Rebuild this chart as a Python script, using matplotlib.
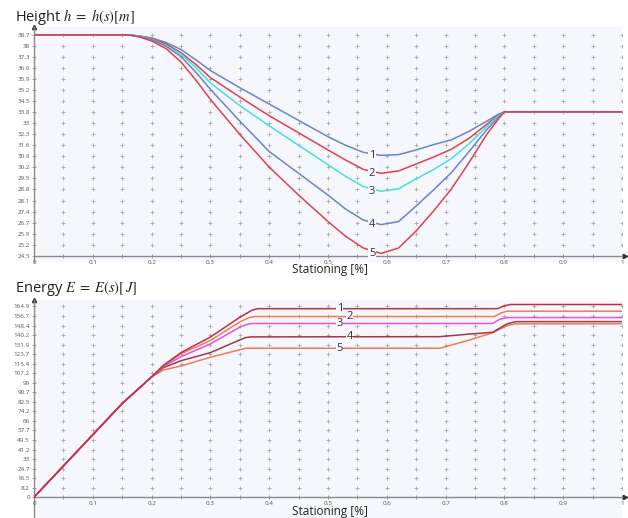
import matplotlib.pyplot as plt
import numpy as np

plt.rcParams['font.family'] = ['Open Sans', 'DejaVu Sans']
plt.rcParams['mathtext.fontset'] = 'stix'

# height profiles h(s)
h_x = [0.0, 0.15, 0.165, 0.18, 0.2, 0.225, 0.25, 0.275, 0.3, 0.35, 0.4, 0.45, 0.5, 0.53, 0.56,
       0.59, 0.62, 0.65, 0.68, 0.71, 0.74, 0.77, 0.79, 0.8, 1.0]
h1 = [38.7, 38.7, 38.68, 38.62, 38.5, 38.2, 37.75, 37.1, 36.4, 35.3, 34.25, 33.2, 32.15, 31.6, 31.15,
      30.95, 31.0, 31.3, 31.65, 31.95, 32.5, 33.15, 33.6, 33.75, 33.75]
h2 = [38.7, 38.7, 38.68, 38.6, 38.45, 38.1, 37.55, 36.8, 35.95, 34.7, 33.5, 32.4, 31.3, 30.65, 30.05,
      29.8, 29.95, 30.4, 30.85, 31.35, 32.05, 32.95, 33.55, 33.75, 33.75]
h3 = [38.7, 38.7, 38.68, 38.6, 38.42, 38.0, 37.45, 36.6, 35.6, 34.15, 32.85, 31.6, 30.35, 29.6, 28.95,
      28.65, 28.8, 29.45, 30.05, 30.75, 31.7, 32.8, 33.5, 33.75, 33.75]
h4 = [38.7, 38.7, 38.67, 38.58, 38.4, 37.95, 37.3, 36.3, 35.2, 33.15, 31.2, 29.8, 28.4, 27.5, 26.8,
      26.5, 26.7, 27.7, 28.75, 29.85, 31.2, 32.6, 33.4, 33.75, 33.75]
h5 = [38.7, 38.7, 38.66, 38.55, 38.3, 37.8, 36.95, 35.8, 34.55, 32.3, 30.2, 28.4, 26.7, 25.75, 25.0,
      24.65, 25.0, 26.1, 27.4, 28.8, 30.5, 32.3, 33.3, 33.75, 33.75]

# energy profiles E(s)
e1_x = [0.0, 0.1, 0.15, 0.2, 0.22, 0.25, 0.3, 0.35, 0.37, 0.38, 0.788, 0.8, 0.81, 1.0]
e1 = [0.0, 54.0, 81.0, 104.0, 114.0, 125.0, 138.5, 155.5, 161.5, 163.0, 163.0, 165.5, 166.6, 166.6]
e2_x = [0.0, 0.1, 0.15, 0.2, 0.22, 0.25, 0.3, 0.35, 0.365, 0.375, 0.783, 0.795, 0.805, 1.0]
e2 = [0.0, 54.0, 81.0, 104.0, 113.5, 124.0, 135.5, 151.5, 155.2, 156.2, 156.2, 159.5, 160.8, 160.8]
e3_x = [0.0, 0.1, 0.15, 0.2, 0.22, 0.25, 0.3, 0.35, 0.362, 0.372, 0.78, 0.792, 0.805, 1.0]
e3 = [0.0, 54.0, 81.0, 104.0, 113.0, 121.5, 132.5, 147.0, 149.4, 150.2, 150.2, 153.8, 155.3, 155.3]
e4_x = [0.0, 0.1, 0.15, 0.2, 0.22, 0.25, 0.3, 0.35, 0.36, 0.37, 0.69, 0.74, 0.78, 0.805, 0.82, 1.0]
e4 = [0.0, 54.0, 81.0, 104.0, 112.0, 118.0, 125.0, 136.0, 138.0, 138.6, 138.8, 141.0, 142.6, 150.0, 151.8, 151.8]
e5_x = [0.0, 0.1, 0.15, 0.2, 0.22, 0.25, 0.3, 0.35, 0.36, 0.69, 0.74, 0.78, 0.805, 0.82, 1.0]
e5 = [0.0, 54.0, 81.0, 104.0, 110.0, 113.5, 121.0, 127.5, 128.8, 128.8, 135.8, 142.2, 148.5, 149.9, 149.9]

h_ticks = ['24.5', '25.2', '25.9', '26.7', '27.4', '28.1', '28.8', '29.5', '30.2', '30.9', '31.6',
           '32.3', '33', '33.8', '34.5', '35.2', '35.9', '36.6', '37.3', '38', '38.7']
e_ticks = ['0', '8.2', '16.5', '24.7', '33', '41.2', '49.5', '57.7', '66', '74.2', '82.5', '90.7',
           '99', '107.2', '115.4', '123.7', '131.9', '140.2', '148.4', '156.7', '164.9']
x_ticks = ['0', '0.1', '0.2', '0.3', '0.4', '0.5', '0.6', '0.7', '0.8', '0.9', '1']

# where the curve numbers sit
h_lab_x = 0.575
e_lab_x = [0.52, 0.537, 0.52, 0.537, 0.52]
e_lab_y = [163.0, 156.2, 150.2, 138.8, 128.8]

bg = '#f6f7fc'
blue = '#6a82d0'
red = '#e0404a'
cyan = '#3ee2e2'
dark = '#9c3a4a'
orange = '#f07c52'
magenta = '#e650e6'

fig = plt.figure(figsize=(6.28, 5.18), dpi=100)
ax1 = fig.add_axes([34/628, 1-262/518, 588/628, (262-27)/518])
ax2 = fig.add_axes([34/628, 1-518/518, 588/628, (518-300)/518])


def style(ax, ylo, yhi, base, ticks):
    ax.set_facecolor(bg)
    ax.set_xlim(0, 1)
    ax.set_ylim(ylo, yhi)
    pos = np.linspace(base, float(ticks[-1]), len(ticks))
    # plus-shaped grid markers
    gx, gy = np.meshgrid(np.arange(1, 21) * 0.05, pos[1:])
    ax.plot(gx.ravel(), gy.ravel(), '+', color='#a8a8a8', ms=3.2, mew=0.6, zorder=1)
    ax.set_yticks(pos)
    ax.set_yticklabels(ticks)
    ax.set_xticks(np.arange(0, 11) * 0.1)
    ax.set_xticklabels(x_ticks)
    ax.set_xticks(np.arange(0, 20) * 0.05 + 0.05, minor=True)
    for s in ['top', 'right']:
        ax.spines[s].set_visible(False)
    ax.spines['left'].set_position(('data', 0))
    ax.spines['bottom'].set_position(('data', base))
    for s in ['left', 'bottom']:
        ax.spines[s].set_color('#8a8a8a')
        ax.spines[s].set_linewidth(1.0)
    ax.tick_params(which='both', direction='inout', length=3, width=0.6, color='#8a8a8a',
                   labelsize=4.5, labelcolor='#555555', pad=1.5)
    ax.plot(1.005, base, '>', color='#333333', ms=3, transform=ax.get_yaxis_transform(), clip_on=False)
    ax.plot(0, 1, '^', color='#333333', ms=3, transform=ax.get_xaxis_transform(), clip_on=False)


style(ax1, 24.1, 39.2, 24.5, h_ticks)
style(ax2, -18, 170.5, 0.0, e_ticks)

lw = 1.1
ax1.plot(h_x, h1, color=blue, lw=lw, zorder=3)
ax1.plot(h_x, h2, color=red, lw=lw, zorder=3)
ax1.plot(h_x, h3, color=cyan, lw=lw, zorder=3)
ax1.plot(h_x, h4, color=blue, lw=lw, zorder=3)
ax1.plot(h_x, h5, color=red, lw=lw, zorder=3)

ax2.plot(e5_x, e5, color=orange, lw=lw, zorder=3)
ax2.plot(e4_x, e4, color=dark, lw=lw, zorder=3)
ax2.plot(e3_x, e3, color=magenta, lw=lw, zorder=3)
ax2.plot(e2_x, e2, color=orange, lw=lw, zorder=3)
ax2.plot(e1_x, e1, color='#b8304a', lw=lw, zorder=3)

box = dict(facecolor=bg, edgecolor='none', pad=0.3)
i = h_x.index(0.59)
for n, y in enumerate([h1[i], h2[i], h3[i], h4[i], h5[i]]):
    ax1.text(h_lab_x, y, str(n + 1), fontsize=8, color='#333333', ha='center', va='center',
             bbox=box, zorder=4)
for n, (x, y) in enumerate(zip(e_lab_x, e_lab_y)):
    ax2.text(x, y, str(n + 1), fontsize=8, color='#333333', ha='center', va='center',
             bbox=box, zorder=4)

fig.text(15/628, 1-17/518, r'Height $h\;=\;h(s)[m]$', fontsize=10.5, color='#222222', va='center')
fig.text(15/628, 1-289/518, r'Energy $E\;=\;E(s)[\,J]$', fontsize=10.5, color='#222222', va='center')
fig.text(330/628, 1-270/518, 'Stationing [%]', fontsize=8.5, color='#222222', ha='center', va='center')
fig.text(330/628, 1-512/518, 'Stationing [%]', fontsize=8.5, color='#222222', ha='center', va='center')

fig.savefig('out.png', dpi=100, facecolor='white')
